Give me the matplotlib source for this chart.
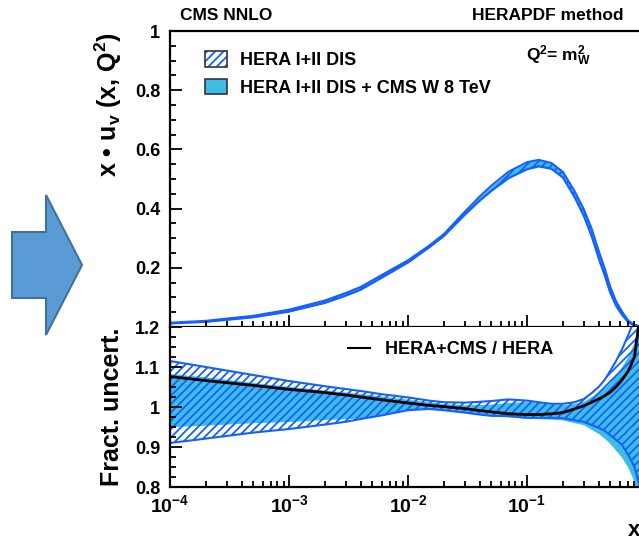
import numpy as np
import matplotlib
matplotlib.use("Agg")
import matplotlib.pyplot as plt
from matplotlib.patches import Polygon, Patch
from matplotlib.lines import Line2D
from matplotlib.ticker import FixedLocator, FuncFormatter, LogLocator, MultipleLocator, NullFormatter

plt.rcParams['font.family'] = ['Liberation Sans', 'DejaVu Sans']
plt.rcParams['font.weight'] = 'bold'
plt.rcParams['mathtext.fontset'] = 'custom'
plt.rcParams['mathtext.rm'] = 'Liberation Sans:bold'
plt.rcParams['mathtext.bf'] = 'Liberation Sans:bold'
plt.rcParams['mathtext.it'] = 'Liberation Sans:bold'
plt.rcParams['mathtext.default'] = 'bf'
plt.rcParams['hatch.linewidth'] = 1.3

# Bjorken x grid
x = np.array([1e-4, 2e-4, 5e-4, 1e-3, 2e-3, 3e-3, 4e-3, 6e-3, 0.01, 0.015, 0.02,
              0.03, 0.04, 0.05, 0.07, 0.1, 0.125, 0.16, 0.2, 0.25, 0.3, 0.35,
              0.4, 0.45, 0.5, 0.56, 0.63, 0.71, 0.8, 0.89, 1.0])

# x*u_v(x, Q^2 = m_W^2), HERA I+II central value
xuv_hera = np.array([0.013, 0.019, 0.035, 0.055, 0.085, 0.11, 0.13, 0.17, 0.22, 0.27, 0.31,
                     0.385, 0.435, 0.47, 0.515, 0.548, 0.558, 0.55, 0.52, 0.455, 0.39, 0.32,
                     0.245, 0.185, 0.125, 0.078, 0.045, 0.018, 0.006, 0.002, 0.0])

# Fractional uncertainty band of HERA I+II DIS (relative to HERA central)
hera_up = np.array([1.115, 1.100, 1.080, 1.065, 1.052, 1.045, 1.040, 1.032, 1.024, 1.016, 1.012,
                    1.011, 1.013, 1.015, 1.019, 1.016, 1.012, 1.008, 1.008, 1.012, 1.020, 1.035,
                    1.050, 1.068, 1.090, 1.115, 1.145, 1.180, 1.220, 1.300, 1.450])
hera_dn = np.array([0.910, 0.921, 0.936, 0.945, 0.956, 0.963, 0.970, 0.979, 0.992, 0.995, 0.992,
                    0.986, 0.981, 0.978, 0.977, 0.973, 0.973, 0.973, 0.972, 0.967, 0.963, 0.955,
                    0.948, 0.940, 0.930, 0.918, 0.905, 0.880, 0.850, 0.800, 0.700])

# Band of HERA I+II DIS + CMS W 8 TeV (relative to HERA central)
cms_up = np.array([1.082, 1.074, 1.060, 1.050, 1.041, 1.036, 1.032, 1.026, 1.018, 1.011, 1.007,
                   1.004, 1.005, 1.006, 1.010, 1.012, 1.010, 1.005, 1.004, 1.008, 1.013, 1.025,
                   1.035, 1.048, 1.060, 1.080, 1.100, 1.125, 1.160, 1.220, 1.350])
cms_dn = np.array([0.952, 0.956, 0.962, 0.965, 0.970, 0.972, 0.974, 0.982, 0.995, 0.997, 0.994,
                   0.988, 0.983, 0.979, 0.977, 0.973, 0.972, 0.971, 0.969, 0.962, 0.957, 0.945,
                   0.935, 0.923, 0.910, 0.893, 0.875, 0.850, 0.815, 0.750, 0.600])

# Central ratio HERA+CMS / HERA
ratio = np.array([1.076, 1.066, 1.054, 1.044, 1.036, 1.030, 1.025, 1.018, 1.010, 1.004, 1.001,
                  0.996, 0.991, 0.988, 0.983, 0.981, 0.981, 0.983, 0.986, 0.995, 1.003, 1.012,
                  1.020, 1.028, 1.037, 1.050, 1.068, 1.090, 1.125, 1.230, 1.320])

top_yticks = [0.2, 0.4, 0.6, 0.8, 1.0]
top_ylabels = ['0.2', '0.4', '0.6', '0.8', '1']
bot_yticks = [0.8, 0.9, 1.0, 1.1, 1.2]
bot_ylabels = ['0.8', '0.9', '1', '1.1', '1.2']

BLUE = '#1560FF'
CYAN = '#3EBDE3'
W, H = 639, 540


def fx(px):
    return px / W


def fy(py):
    return 1 - py / H


def decade_label(v, pos):
    e = int(round(np.log10(v)))
    return r'$10^{%d}$' % e if e < 0 else ''


fig = plt.figure(figsize=(W / 100, H / 100), dpi=100)
ax_top = fig.add_axes([fx(170), fy(327), (646 - 170) / W, (327 - 31) / H])
ax_bot = fig.add_axes([fx(170), fy(487), (646 - 170) / W, (487 - 327) / H])

# upper panel: the PDF with its two uncertainty bands
ax_top.fill_between(x, xuv_hera * cms_dn, xuv_hera * cms_up, facecolor=CYAN, edgecolor=CYAN, lw=0.8)
ax_top.fill_between(x, xuv_hera * hera_dn, xuv_hera * hera_up, facecolor='none',
                    edgecolor=BLUE, hatch='////', lw=1.5)

# lower panel: fractional uncertainties and the ratio of central values
ax_bot.fill_between(x, cms_dn, cms_up, facecolor=CYAN, edgecolor=CYAN, lw=0.8)
ax_bot.fill_between(x, hera_dn, hera_up, facecolor='none', edgecolor=BLUE, hatch='////', lw=1.5)
ax_bot.plot(x, ratio, color='black', lw=2.0, zorder=5)

for ax in (ax_top, ax_bot):
    ax.set_xscale('log')
    ax.set_xlim(1e-4, 1.0)
    ax.xaxis.set_major_locator(LogLocator(base=10, numticks=10))
    ax.xaxis.set_minor_locator(LogLocator(base=10, subs=np.arange(2, 10), numticks=20))
    ax.xaxis.set_minor_formatter(NullFormatter())
    ax.tick_params(which='both', direction='in', top=False, right=False, width=1.3)
    ax.tick_params(which='major', length=8.5)
    ax.tick_params(which='minor', length=4.5)
    ax.tick_params(axis='y', labelsize=13, pad=7)
    for s in ax.spines.values():
        s.set_linewidth(1.6)
    ax.spines['right'].set_visible(False)

ax_top.set_ylim(0, 1)
ax_top.yaxis.set_major_locator(FixedLocator(top_yticks))
ax_top.set_yticklabels(top_ylabels, fontweight='bold')
ax_top.yaxis.set_minor_locator(MultipleLocator(0.05))
ax_top.tick_params(axis='x', labelbottom=False)

ax_bot.set_ylim(0.8, 1.2)
ax_bot.yaxis.set_major_locator(FixedLocator(bot_yticks))
ax_bot.set_yticklabels(bot_ylabels, fontweight='bold')
ax_bot.yaxis.set_minor_locator(MultipleLocator(0.025))
ax_bot.spines['top'].set_visible(False)
ax_bot.xaxis.set_major_formatter(FuncFormatter(decade_label))
ax_bot.tick_params(axis='x', labelsize=14, pad=5)

# legends
h_hera = (Patch(facecolor='white', edgecolor=BLUE, hatch='////', lw=0),
          Patch(facecolor='none', edgecolor='#333333', lw=1.2))
h_cms = Patch(facecolor=CYAN, edgecolor='#333333', lw=1.2)
ax_top.legend([h_hera, h_cms], ['HERA I+II DIS', 'HERA I+II DIS + CMS W 8 TeV'],
              loc='upper left', bbox_to_anchor=(fx(205), fy(51)), bbox_transform=fig.transFigure,
              frameon=False, fontsize=13, borderpad=0, borderaxespad=0,
              handlelength=1.22, handleheight=0.95, handletextpad=0.72, labelspacing=0.55)
ax_bot.legend([Line2D([], [], color='black', lw=1.5)], ['HERA+CMS / HERA'],
              loc='upper left', bbox_to_anchor=(fx(348), fy(341)), bbox_transform=fig.transFigure,
              frameon=False, fontsize=13, borderpad=0, borderaxespad=0,
              handlelength=1.2, handletextpad=0.83)

# headers and labels
fig.text(fx(180), fy(15), 'CMS NNLO', fontsize=12.5, ha='left', va='center')
fig.text(fx(623), fy(15), 'HERAPDF method', fontsize=12.5, ha='right', va='center')
fig.text(fx(526), fy(56), r'$Q^{2}$= $m_{W}^{2}$', fontsize=12.5, ha='left', va='center')
fig.text(fx(108), fy(32), r'x • u$_{v}$ (x, Q$^{2}$)', fontsize=18, rotation=90,
         ha='center', va='top')
fig.text(fx(112), fy(328), 'Fract. uncert.', fontsize=18, rotation=90, ha='center', va='top')
fig.text(fx(628), fy(530), 'x', fontsize=16, ha='left', va='center')

# arrow on the left
arrow_px = [(12, 232), (46, 232), (46, 195), (82, 265), (46, 335), (46, 298), (12, 298)]
fig.patches.append(Polygon([(fx(a), fy(b)) for a, b in arrow_px], closed=True,
                           transform=fig.transFigure, facecolor='#5B9BD5',
                           edgecolor='#41719C', lw=1.5))

fig.savefig('out.png', dpi=100)
